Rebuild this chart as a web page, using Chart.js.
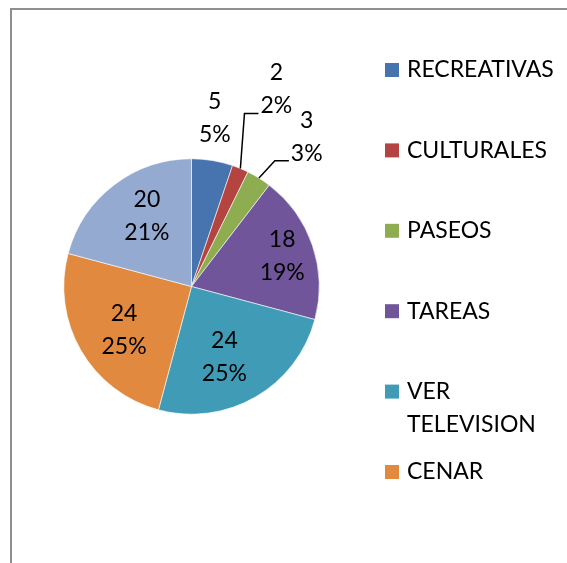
<!DOCTYPE html>
<html>
<head>
<meta charset="utf-8">
<script src="https://cdn.jsdelivr.net/npm/chart.js@4"></script>
<style>
  html, body { margin: 0; padding: 0; background: #fff; overflow: hidden; }
  #wrap { position: relative; width: 567px; height: 563px; }
  #frame {
    position: absolute; left: 10px; top: 8px; width: 600px; height: 600px;
    border-left: 2px solid #8f8f8f; border-top: 2px solid #8f8f8f;
    box-sizing: border-box;
  }
  canvas { position: absolute; left: 0; top: 0; }
</style>
</head>
<body>
<div id="wrap">
  <div id="frame"></div>
  <canvas id="chart" width="567" height="563"></canvas>
</div>
<script>
// Datos del gráfico
const categories = ['RECREATIVAS', 'CULTURALES', 'PASEOS', 'TAREAS', 'VER TELEVISION', 'CENAR', 'OTRAS'];
const values = [5, 2, 3, 18, 24, 24, 20];
const percents = ['5%', '2%', '3%', '19%', '25%', '25%', '21%'];

const colors = ['#4773AE', '#B3443F', '#8EAD51', '#70559A', '#409CB6', '#E0893F', '#94AAD1'];
const FONT = '23px Lato, "Noto Sans", sans-serif';

// posición de etiquetas: r = fracción del radio, da = desplazamiento angular (grados), leader = línea guía
const labelPos = [
  { r: 1.33, da: -1.5 },
  { r: 1.68, da: 0.8, leader: true },
  { r: 1.48, da: 5.7, leader: true },
  { r: 0.75, da: 0 },
  { r: 0.61, da: 5 },
  { r: 0.63, da: -3 },
  { r: 0.65, da: 5 }
];

const labelsPlugin = {
  id: 'pieLabels',
  afterDatasetsDraw(chart) {
    const ctx = chart.ctx;
    const meta = chart.getDatasetMeta(0);
    ctx.save();
    ctx.font = FONT;
    ctx.fillStyle = '#000';
    ctx.textAlign = 'center';
    ctx.textBaseline = 'middle';
    const lh = 33;

    meta.data.forEach((arc, i) => {
      const p = arc.getProps(['x', 'y', 'startAngle', 'endAngle', 'outerRadius'], true);
      const mid = (p.startAngle + p.endAngle) / 2;
      const cfg = labelPos[i];
      const a = mid + cfg.da * Math.PI / 180;
      const cx = p.x + Math.cos(a) * p.outerRadius * cfg.r;
      const cy = p.y + Math.sin(a) * p.outerRadius * cfg.r;
      const l1 = String(values[i]);
      const l2 = percents[i];
      ctx.fillText(l1, cx, cy - lh / 2);
      ctx.fillText(l2, cx, cy + lh / 2);

      if (cfg.leader) {
        const w = Math.max(ctx.measureText(l1).width, ctx.measureText(l2).width);
        const left = cx - w / 2 - 2;
        const hy = cy + 24;
        const ex = p.x + Math.cos(mid) * p.outerRadius;
        const ey = p.y + Math.sin(mid) * p.outerRadius;
        ctx.beginPath();
        ctx.strokeStyle = '#000';
        ctx.lineWidth = 1.5;
        ctx.moveTo(ex, ey);
        ctx.lineTo(left - 14, hy);
        ctx.lineTo(left, hy);
        ctx.stroke();
      }
    });

    // leyenda (la última categoría queda fuera del recuadro)
    ctx.textAlign = 'left';
    const legendTop = 70;
    const legendStep = 80.4;
    const shown = ['RECREATIVAS', 'CULTURALES', 'PASEOS', 'TAREAS', ['VER', 'TELEVISION'], 'CENAR'];
    shown.forEach((txt, i) => {
      const y = legendTop + i * legendStep;
      ctx.fillStyle = colors[i];
      ctx.fillRect(385, y - 7, 14, 14);
      ctx.fillStyle = '#000';
      const lines = Array.isArray(txt) ? txt : [txt];
      lines.forEach((t, k) => ctx.fillText(t, 407, y + k * lh));
    });
    ctx.restore();
  }
};

new Chart(document.getElementById('chart'), {
  type: 'pie',
  data: {
    labels: categories,
    datasets: [{
      data: values,
      backgroundColor: colors,
      borderColor: '#ffffff',
      borderWidth: 0.6,
      hoverOffset: 0
    }]
  },
  options: {
    responsive: false,
    animation: false,
    layout: { padding: { left: 63.5, right: 247.5, top: 158.5, bottom: 148.5 } },
    plugins: {
      legend: { display: false },
      tooltip: { enabled: false }
    }
  },
  plugins: [labelsPlugin]
});
</script>
</body>
</html>
